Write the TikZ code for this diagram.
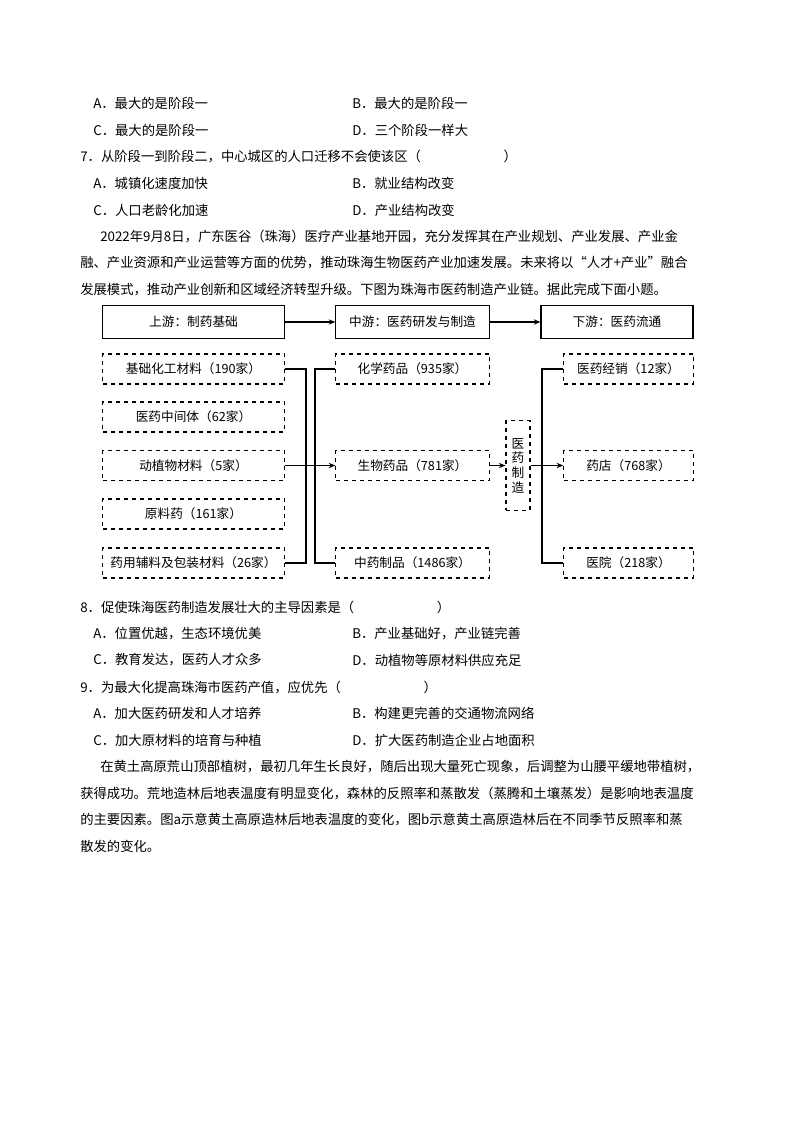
\documentclass[tikz,border=0pt]{standalone}
\usepackage{fontspec}
\setmainfont{Noto Sans CJK SC}
\usetikzlibrary{arrows.meta}
\begin{document}
\begin{tikzpicture}[x=0.75pt,y=-0.75pt,
  t/.style={anchor=west,inner sep=0,font=\fontsize{10pt}{12pt}\selectfont},
  sb/.style={draw,line width=0.8pt,minimum height=25pt,inner sep=0,font=\fontsize{9.5pt}{11pt}\selectfont},
  db/.style={draw,dashed,line width=0.8pt,minimum height=22.5pt,inner sep=0,font=\fontsize{9.5pt}{11pt}\selectfont},
  ln/.style={line width=0.8pt},
  ar/.style={line width=0.8pt,-{Stealth[length=5pt,width=4pt]}}]
\useasboundingbox (0,0) rectangle (800,1132);
\node[t] (a1) at (93,103) {A．最大的是阶段一};
\node[t] (b1) at (352,103) {B．最大的是阶段一};
\node[t] (c1) at (93,130) {C．最大的是阶段一};
\node[t] (d1) at (352,130) {D．三个阶段一样大};
\node[t] (q7) at (80,157) {7．从阶段一到阶段二，中心城区的人口迁移不会使该区（\hspace{62pt}）};
\node[t] (a7) at (93,183) {A．城镇化速度加快};
\node[t] (b7) at (352,183) {B．就业结构改变};
\node[t] (c7) at (93,210) {C．人口老龄化加速};
\node[t] (d7) at (352,210) {D．产业结构改变};
\node[t] (p1) at (100,237) {2022年9月8日，广东医谷（珠海）医疗产业基地开园，充分发挥其在产业规划、产业发展、产业金};
\node[t] (p2) at (80,263) {融、产业资源和产业运营等方面的优势，推动珠海生物医药产业加速发展。未来将以“人才+产业”融合};
\node[t] (p3) at (80,290) {发展模式，推动产业创新和区域经济转型升级。下图为珠海市医药制造产业链。据此完成下面小题。};
% diagram
\node[sb,minimum width=136pt] (u) at (193.5,322) {上游：制药基础};
\node[sb,minimum width=115pt] (m) at (412.5,322) {中游：医药研发与制造};
\node[sb,minimum width=114pt] (d) at (617,322) {下游：医药流通};
\draw[ar] (u) -- (m);
\draw[ar] (m) -- (d);
\node[db,minimum width=136pt] (l1) at (193.5,369) {基础化工材料（190家）};
\node[db,minimum width=136pt] (l2) at (193.5,417) {医药中间体（62家）};
\node[db,minimum width=136pt] (l3) at (193.5,465.5) {动植物材料（5家）};
\node[db,minimum width=136pt] (l4) at (193.5,514) {原料药（161家）};
\node[db,minimum width=136pt] (l5) at (193.5,563) {药用辅料及包装材料（26家）};
\node[db,minimum width=115pt] (m1) at (412.5,369) {化学药品（935家）};
\node[db,minimum width=115pt] (m2) at (412.5,465.5) {生物药品（781家）};
\node[db,minimum width=115pt] (m3) at (412.5,563) {中药制品（1486家）};
\node[db,minimum width=18pt,minimum height=67pt,align=center] (z) at (518,465.5) {医\\药\\制\\造};
\node[db,minimum width=97pt] (r1) at (628.5,369) {医药经销（12家）};
\node[db,minimum width=97pt] (r2) at (628.5,465.5) {药店（768家）};
\node[db,minimum width=97pt] (r3) at (628.5,563) {医院（218家）};
\coordinate (ja) at (306,465.5);
\coordinate (jb) at (315,465.5);
\coordinate (jc) at (542,465.5);
\draw[ln] (l1.east) -| (ja) |- (l5.east);
\draw[ln] (l3.east) -- (ja);
\draw[ar] (ja) -- (m2.west);
\draw[ln] (m1.west) -| (jb) |- (m3.west);
\draw[ar] (m2) -- (z);
\draw[ln] (z.east) -- (jc);
\draw[ln] (r1.west) -| (jc) |- (r3.west);
\draw[ar] (jc) -- (r2.west);
% questions
\node[t] (q8) at (80,607) {8．促使珠海医药制造发展壮大的主导因素是（\hspace{62pt}）};
\node[t] (a8) at (93,634) {A．位置优越，生态环境优美};
\node[t] (b8) at (352,634) {B．产业基础好，产业链完善};
\node[t] (c8) at (93,660) {C．教育发达，医药人才众多};
\node[t] (d8) at (352,660) {D．动植物等原材料供应充足};
\node[t] (q9) at (80,687) {9．为最大化提高珠海市医药产值，应优先（\hspace{62pt}）};
\node[t] (a9) at (93,713) {A．加大医药研发和人才培养};
\node[t] (b9) at (352,713) {B．构建更完善的交通物流网络};
\node[t] (c9) at (93,740) {C．加大原材料的培育与种植};
\node[t] (d9) at (352,740) {D．扩大医药制造企业占地面积};
\node[t] (s1) at (100,767) {在黄土高原荒山顶部植树，最初几年生长良好，随后出现大量死亡现象，后调整为山腰平缓地带植树，};
\node[t] (s2) at (80,793) {获得成功。荒地造林后地表温度有明显变化，森林的反照率和蒸散发（蒸腾和土壤蒸发）是影响地表温度};
\node[t] (s3) at (80,820) {的主要因素。图a示意黄土高原造林后地表温度的变化，图b示意黄土高原造林后在不同季节反照率和蒸};
\node[t] (s4) at (80,846) {散发的变化。};
\end{tikzpicture}
\end{document}
